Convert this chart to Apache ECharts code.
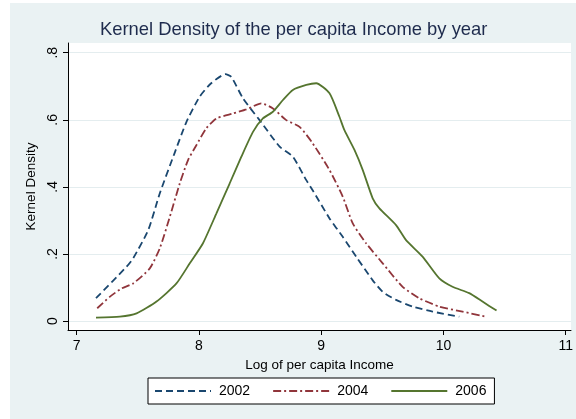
<!DOCTYPE html>
<html>
<head>
<meta charset="utf-8">
<script src="https://cdn.jsdelivr.net/npm/echarts@6/dist/echarts.min.js"></script>
<style>
html,body{margin:0;padding:0;background:#ffffff;}
#chart{position:absolute;left:10px;top:3px;width:566px;height:416px;}
</style>
</head>
<body>
<div id="chart"></div>
<script>
// Data
const years = ['2002', '2004', '2006'];
const xTicks = [7, 8, 9, 10, 11];
const yTicks = [0, 0.2, 0.4, 0.6, 0.8];
const yTickLabels = ['0', '.2', '.4', '.6', '.8'];

const x2002 = [7.158, 7.408, 7.462, 7.585, 7.68, 7.80, 7.898, 8.006, 8.10, 8.216, 8.265, 8.36, 8.496, 8.66, 8.768, 8.878, 8.93, 9.068, 9.176, 9.286, 9.42, 9.503, 9.612, 9.748, 9.911, 10.129];
const d2002 = [0.068, 0.162, 0.187, 0.271, 0.381, 0.50, 0.594, 0.669, 0.709, 0.736, 0.728, 0.664, 0.599, 0.52, 0.49, 0.42, 0.39, 0.306, 0.251, 0.192, 0.122, 0.087, 0.063, 0.043, 0.028, 0.013];

const x2004 = [7.168, 7.27, 7.367, 7.462, 7.598, 7.68, 7.762, 7.843, 7.911, 7.98, 8.061, 8.143, 8.278, 8.388, 8.51, 8.605, 8.714, 8.823, 8.93, 9.068, 9.176, 9.258, 9.367, 9.503, 9.666, 9.802, 9.966, 10.156, 10.347];
const d2004 = [0.038, 0.072, 0.097, 0.112, 0.157, 0.217, 0.311, 0.41, 0.48, 0.525, 0.575, 0.604, 0.619, 0.631, 0.649, 0.634, 0.599, 0.579, 0.53, 0.45, 0.371, 0.291, 0.232, 0.172, 0.102, 0.068, 0.043, 0.028, 0.013];

const x2006 = [7.158, 7.353, 7.49, 7.653, 7.816, 7.925, 8.033, 8.143, 8.251, 8.347, 8.442, 8.523, 8.605, 8.687, 8.768, 8.878, 8.959, 9.068, 9.149, 9.19, 9.272, 9.34, 9.421, 9.476, 9.612, 9.694, 9.829, 9.966, 10.074, 10.211, 10.319, 10.434];
const d2006 = [0.010, 0.013, 0.023, 0.058, 0.112, 0.172, 0.232, 0.321, 0.41, 0.49, 0.564, 0.604, 0.624, 0.659, 0.689, 0.704, 0.709, 0.679, 0.609, 0.569, 0.51, 0.45, 0.366, 0.336, 0.286, 0.241, 0.192, 0.127, 0.102, 0.083, 0.058, 0.031];

const colors = ['#1a476f', '#90353b', '#55752f'];
const dashes = [[7, 4], [8, 3, 2, 3], 'solid'];
const xs = [x2002, x2004, x2006];
const ds = [d2002, d2004, d2006];

const chart = echarts.init(document.getElementById('chart'));
const option = {
  backgroundColor: '#eaf2f3',
  animation: false,
  title: {
    text: 'Kernel Density of the per capita Income by year',
    left: 90, top: 18, padding: 0,
    textStyle: {color: '#1e2b4d', fontSize: 18.4, fontWeight: 'normal', fontFamily: 'Liberation Sans, Arial, sans-serif'}
  },
  legend: {
    data: years,
    left: 138, top: 375,
    padding: [6, 8, 6, 6],
    itemWidth: 56, itemHeight: 14, itemGap: 22,
    itemStyle: {opacity: 0},
    backgroundColor: '#ffffff', borderColor: '#000000', borderWidth: 1, borderRadius: 0,
    textStyle: {color: '#000000', fontSize: 14, padding: [0, 0, 0, 3], fontFamily: 'Liberation Sans, Arial, sans-serif'}
  },
  grid: {left: 58, top: 40, right: 4, bottom: 89, show: true, backgroundColor: '#ffffff', borderWidth: 0},
  xAxis: {
    type: 'value', min: 6.929, max: 11.043,
    name: 'Log of per capita Income', nameLocation: 'middle', nameGap: 24,
    nameTextStyle: {color: '#000000', fontSize: 13.5, fontFamily: 'Liberation Sans, Arial, sans-serif'},
    axisLine: {show: true, onZero: false, lineStyle: {color: '#000000', width: 1}},
    axisTick: {show: true, length: 5, customValues: xTicks, lineStyle: {color: '#000000'}},
    axisLabel: {customValues: xTicks, margin: 9, color: '#000000', fontSize: 14, fontFamily: 'Liberation Sans, Arial, sans-serif'},
    splitLine: {show: false}
  },
  yAxis: {
    type: 'value', min: -0.0268, max: 0.829,
    name: 'Kernel Density', nameLocation: 'middle', nameGap: 24,
    nameTextStyle: {color: '#000000', fontSize: 13.5, fontFamily: 'Liberation Sans, Arial, sans-serif'},
    axisLine: {show: true, onZero: false, lineStyle: {color: '#000000', width: 1}},
    axisTick: {show: true, length: 5, customValues: yTicks, lineStyle: {color: '#000000'}},
    axisLabel: {
      customValues: yTicks, rotate: 90, margin: 8, color: '#000000', fontSize: 14,
      fontFamily: 'Liberation Sans, Arial, sans-serif',
      formatter: function (v) { const i = yTicks.findIndex(t => Math.abs(t - v) < 1e-6); return i >= 0 ? yTickLabels[i] : ''; }
    },
    splitLine: {show: true, lineStyle: {color: '#e4edef', width: 1}}
  },
  series: years.map((y, i) => ({
    name: y, type: 'line', symbol: 'none', smooth: 0.2,
    data: xs[i].map((x, j) => [x, ds[i][j]]),
    lineStyle: {color: colors[i], width: 1.8, type: dashes[i]},
    itemStyle: {color: colors[i]}
  }))
};
chart.setOption(option);
</script>
</body>
</html>
